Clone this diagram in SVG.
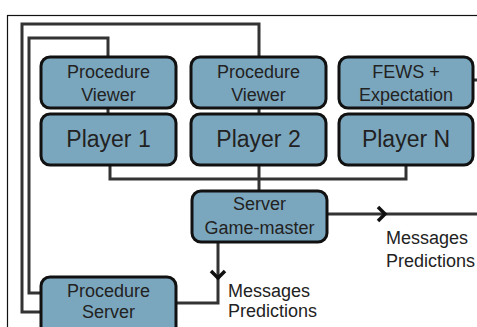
<svg xmlns="http://www.w3.org/2000/svg" width="477" height="327" viewBox="0 0 477 327">
<defs>
<style>
.box{fill:#7ba7be;stroke:#111;stroke-width:3}
.t{font-family:"Liberation Sans",Arial,sans-serif;font-size:18px;fill:#222;text-anchor:middle}
.tb{font-family:"Liberation Sans",Arial,sans-serif;font-size:23px;fill:#222;text-anchor:middle}
.lbl{font-family:"Liberation Sans",Arial,sans-serif;font-size:18px;fill:#222}
.c{fill:none;stroke:#333;stroke-width:3}
.ah{fill:none;stroke:#111;stroke-width:3.5;stroke-linejoin:miter}
</style>
</defs>
<rect x="0" y="0" width="477" height="327" fill="#fff"/>
<rect x="7.5" y="15.5" width="480" height="330" fill="none" stroke="#111" stroke-width="1.2"/>
<g id="connectors">
<path class="c" d="M41 312 H22 V24 H259 V57"/>
<path class="c" d="M41 293 H29 V38 H108 V57"/>
<path class="c" d="M108 108 V114"/>
<path class="c" d="M259 108 V114"/>
<path class="c" d="M110 165 V179 H406 V165"/>
<path class="c" d="M259 165 V191"/>
<path class="c" d="M327 214 H477"/>
<path class="ah" d="M378 207 L385 214 L378 221"/>
<path class="c" d="M218 242 V303 H176"/>
<path class="ah" d="M211 271 L218 278 L225 271"/>
<path class="c" d="M474 80 H477"/>
</g>
<g id="pv1"><rect class="box" x="41" y="57" width="135" height="51" rx="9"/><text class="t" x="108.5" y="78">Procedure</text><text class="t" x="108.5" y="101">Viewer</text></g>
<g id="pv2"><rect class="box" x="191" y="57" width="135" height="51" rx="9"/><text class="t" x="258.5" y="78">Procedure</text><text class="t" x="258.5" y="101">Viewer</text></g>
<g id="fews"><rect class="box" x="339" y="57" width="134" height="51" rx="9"/><text class="t" x="406" y="78">FEWS +</text><text class="t" x="406" y="101">Expectation</text></g>
<g id="p1"><rect class="box" x="41" y="114" width="135" height="51" rx="9"/><text class="tb" x="108.5" y="147">Player 1</text></g>
<g id="p2"><rect class="box" x="191" y="114" width="135" height="51" rx="9"/><text class="tb" x="258.5" y="147">Player 2</text></g>
<g id="pn"><rect class="box" x="339" y="114" width="134" height="51" rx="9"/><text class="tb" x="406" y="147">Player N</text></g>
<g id="server"><rect class="box" x="192" y="191" width="135" height="51" rx="9"/><text class="t" x="259.5" y="210">Server</text><text class="t" x="259.5" y="234">Game-master</text></g>
<g id="ps"><rect class="box" x="41" y="277" width="135" height="60" rx="9"/><text class="t" x="108.5" y="297">Procedure</text><text class="t" x="108.5" y="318">Server</text></g>
<g id="labels">
<text class="lbl" x="386" y="244">Messages</text><text class="lbl" x="386" y="267">Predictions</text>
<text class="lbl" x="228" y="297">Messages</text><text class="lbl" x="228" y="317">Predictions</text>
</g>
</svg>
